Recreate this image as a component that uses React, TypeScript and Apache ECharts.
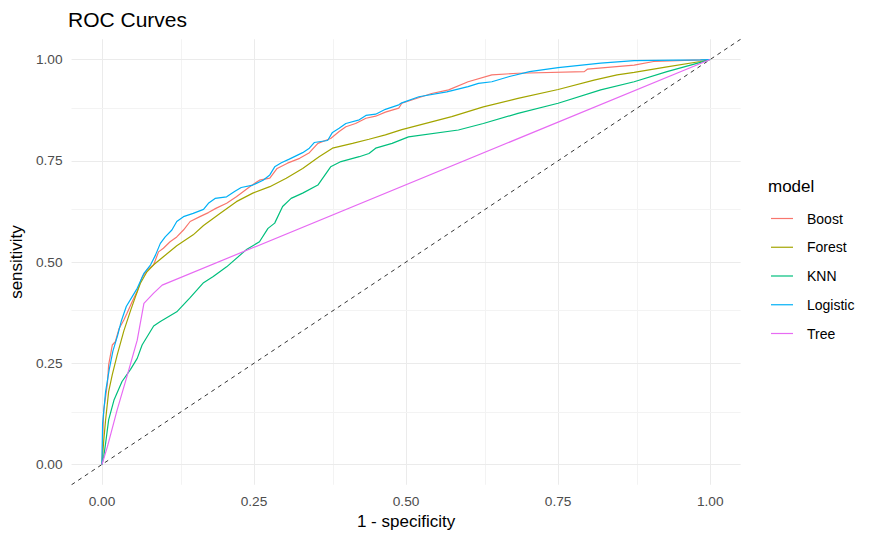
import React, { useEffect, useRef } from "react";
import * as echarts from "echarts";

// ROC curve points (false positive rate = 1 - specificity, true positive rate = sensitivity)
const boostFpr = [0, 0.002, 0.003, 0.009, 0.011, 0.017, 0.022, 0.028, 0.036, 0.041, 0.05, 0.058, 0.066, 0.074, 0.085, 0.093, 0.101, 0.112, 0.123, 0.134, 0.145, 0.161, 0.175, 0.188, 0.205, 0.221, 0.243, 0.259, 0.276, 0.288, 0.305, 0.325, 0.341, 0.355, 0.376, 0.39, 0.401, 0.417, 0.434, 0.45, 0.466, 0.488, 0.493, 0.542, 0.57, 0.602, 0.641, 0.684, 0.793, 0.798, 0.875, 0.907, 0.984, 1];
const boostTpr = [0, 0.1, 0.135, 0.2, 0.246, 0.295, 0.303, 0.335, 0.357, 0.373, 0.403, 0.428, 0.462, 0.48, 0.493, 0.525, 0.534, 0.55, 0.562, 0.579, 0.6, 0.612, 0.622, 0.633, 0.645, 0.661, 0.686, 0.702, 0.707, 0.731, 0.744, 0.756, 0.77, 0.793, 0.805, 0.822, 0.834, 0.842, 0.855, 0.86, 0.87, 0.88, 0.892, 0.916, 0.925, 0.945, 0.962, 0.966, 0.97, 0.976, 0.986, 0.995, 0.999, 1];

const forestFpr = [0, 0.003, 0.006, 0.011, 0.017, 0.025, 0.036, 0.047, 0.055, 0.063, 0.074, 0.085, 0.101, 0.123, 0.15, 0.167, 0.194, 0.221, 0.248, 0.276, 0.303, 0.33, 0.357, 0.379, 0.412, 0.439, 0.466, 0.493, 0.575, 0.627, 0.684, 0.75, 0.809, 0.847, 0.875, 0.929, 0.984, 1];
const forestTpr = [0, 0.06, 0.11, 0.18, 0.222, 0.27, 0.33, 0.38, 0.414, 0.447, 0.476, 0.493, 0.513, 0.54, 0.567, 0.59, 0.62, 0.649, 0.67, 0.686, 0.707, 0.731, 0.76, 0.781, 0.793, 0.803, 0.814, 0.827, 0.859, 0.883, 0.904, 0.926, 0.949, 0.962, 0.968, 0.982, 0.995, 1];

const knnFpr = [0, 0.003, 0.006, 0.011, 0.02, 0.033, 0.047, 0.058, 0.066, 0.085, 0.096, 0.123, 0.145, 0.167, 0.183, 0.205, 0.237, 0.259, 0.273, 0.284, 0.297, 0.311, 0.33, 0.355, 0.376, 0.393, 0.423, 0.439, 0.45, 0.477, 0.504, 0.586, 0.627, 0.684, 0.75, 0.82, 0.875, 0.929, 0.984, 1];
const knnTpr = [0, 0.02, 0.052, 0.11, 0.16, 0.205, 0.235, 0.262, 0.295, 0.342, 0.353, 0.377, 0.412, 0.449, 0.464, 0.488, 0.53, 0.55, 0.583, 0.596, 0.637, 0.657, 0.67, 0.69, 0.735, 0.748, 0.76, 0.768, 0.781, 0.793, 0.809, 0.826, 0.842, 0.867, 0.892, 0.925, 0.945, 0.97, 0.993, 1];

const logisticFpr = [0, 0.001, 0.006, 0.012, 0.018, 0.026, 0.032, 0.04, 0.05, 0.058, 0.063, 0.069, 0.08, 0.088, 0.096, 0.104, 0.115, 0.123, 0.134, 0.15, 0.167, 0.175, 0.186, 0.205, 0.218, 0.229, 0.248, 0.265, 0.276, 0.284, 0.295, 0.308, 0.33, 0.341, 0.349, 0.371, 0.379, 0.39, 0.401, 0.423, 0.434, 0.45, 0.466, 0.488, 0.493, 0.521, 0.567, 0.602, 0.619, 0.641, 0.67, 0.703, 0.75, 0.82, 0.875, 0.984, 1];
const logisticTpr = [0, 0.1, 0.18, 0.235, 0.28, 0.32, 0.355, 0.39, 0.415, 0.435, 0.452, 0.472, 0.493, 0.517, 0.546, 0.562, 0.579, 0.6, 0.612, 0.62, 0.63, 0.645, 0.657, 0.661, 0.674, 0.684, 0.69, 0.702, 0.715, 0.735, 0.745, 0.754, 0.77, 0.781, 0.795, 0.8, 0.82, 0.83, 0.842, 0.851, 0.862, 0.865, 0.877, 0.888, 0.893, 0.908, 0.92, 0.933, 0.941, 0.945, 0.958, 0.97, 0.98, 0.991, 0.997, 0.999, 1];

const treeFpr = [0, 0.009, 0.025, 0.041, 0.058, 0.069, 0.085, 0.099, 1];
const treeTpr = [0, 0.044, 0.135, 0.217, 0.307, 0.398, 0.423, 0.443, 1];

const models = ["Boost", "Forest", "KNN", "Logistic", "Tree"];
const modelColors = ["#F8766D", "#A3A500", "#00BF7D", "#00B0F6", "#E76BF3"];
const modelFpr = [boostFpr, forestFpr, knnFpr, logisticFpr, treeFpr];
const modelTpr = [boostTpr, forestTpr, knnTpr, logisticTpr, treeTpr];

// Axis breaks
const majorBreaks = [0, 0.25, 0.5, 0.75, 1];
const minorBreaks = [0.125, 0.375, 0.625, 0.875];
const axisLimits = [-0.05, 1.05];

const FONT = "'Liberation Sans', Arial, sans-serif";

function isMajor(v: number) {
  return Math.abs(v * 4 - Math.round(v * 4)) < 1e-6 && v > -1e-6 && v < 1 + 1e-6;
}

export default function App() {
  const ref = useRef<HTMLDivElement>(null);

  useEffect(() => {
    if (!ref.current) return;
    const chart = echarts.init(ref.current, undefined, { renderer: "svg" });

    const gridLine = (axis: "xAxis" | "yAxis", v: number, major: boolean) => ({
      [axis]: v,
      lineStyle: {
        color: major ? "#EBEBEB" : "#F3F3F3",
        width: 1,
        type: "solid",
      },
    });

    const gridLines = [
      ...majorBreaks.map((v) => gridLine("xAxis", v, true)),
      ...minorBreaks.map((v) => gridLine("xAxis", v, false)),
      ...majorBreaks.map((v) => gridLine("yAxis", v, true)),
      ...minorBreaks.map((v) => gridLine("yAxis", v, false)),
    ];

    const axisCommon = {
      type: "value" as const,
      min: axisLimits[0],
      max: axisLimits[1],
      interval: 0.025,
      axisLine: { show: false },
      axisTick: { show: false },
      splitLine: { show: false },
      axisLabel: {
        color: "#4D4D4D",
        fontFamily: FONT,
        fontSize: 13.7,
        lineHeight: 14,
        formatter: (v: number) => (isMajor(v) ? v.toFixed(2) : ""),
      },
      nameLocation: "middle" as const,
      nameTextStyle: {
        color: "#000000",
        fontFamily: FONT,
        fontSize: 17,
        lineHeight: 17,
      },
    };

    const curveSeries = models.map((name, i) => ({
      name,
      type: "line",
      data: modelFpr[i].map((x, j) => [x, modelTpr[i][j]]),
      showSymbol: false,
      symbol: "none",
      lineStyle: { color: modelColors[i], width: 1.2 },
      itemStyle: { color: modelColors[i] },
      emphasis: { disabled: true },
      z: 3,
    }));

    chart.setOption({
      animation: false,
      backgroundColor: "#FFFFFF",
      title: {
        text: "ROC Curves",
        left: 68,
        top: 9,
        padding: 0,
        textStyle: {
          color: "#000000",
          fontFamily: FONT,
          fontSize: 21,
          fontWeight: "normal",
          lineHeight: 21,
        },
      },
      grid: {
        left: 67.4,
        top: 39.25,
        width: 673.2,
        height: 445.5,
        containLabel: false,
      },
      xAxis: {
        ...axisCommon,
        name: "1 - specificity",
        nameGap: 28,
        axisLabel: { ...axisCommon.axisLabel, margin: 9.5 },
      },
      yAxis: {
        ...axisCommon,
        name: "sensitivity",
        nameGap: 39,
        axisLabel: { ...axisCommon.axisLabel, margin: 9 },
      },
      legend: {
        data: models,
        orient: "vertical",
        left: 771,
        top: 210.5,
        itemWidth: 22,
        itemHeight: 1.2,
        icon: "rect",
        itemGap: 12.75,
        padding: 0,
        textStyle: {
          color: "#000000",
          fontFamily: FONT,
          fontSize: 14,
          lineHeight: 16,
          padding: [0, 0, 0, 9],
        },
        selectedMode: false,
      },
      graphic: [
        {
          type: "text",
          left: 768,
          top: 177.5,
          style: {
            text: "model",
            fill: "#000000",
            font: `17px ${FONT}`,
          },
        },
      ],
      series: [
        {
          name: "reference",
          type: "line",
          data: [
            [axisLimits[0], axisLimits[0]],
            [axisLimits[1], axisLimits[1]],
          ],
          showSymbol: false,
          symbol: "none",
          lineStyle: { color: "#000000", width: 0.8, type: [4, 4] },
          emphasis: { disabled: true },
          silent: true,
          z: 2,
          markLine: {
            silent: true,
            symbol: ["none", "none"],
            label: { show: false },
            emphasis: { disabled: true },
            data: gridLines,
            z: 1,
          },
        },
        ...curveSeries,
      ],
    });

    return () => chart.dispose();
  }, []);

  return (
    <div
      ref={ref}
      style={{ position: "absolute", left: 0, top: 0, width: 875, height: 540 }}
    />
  );
}
